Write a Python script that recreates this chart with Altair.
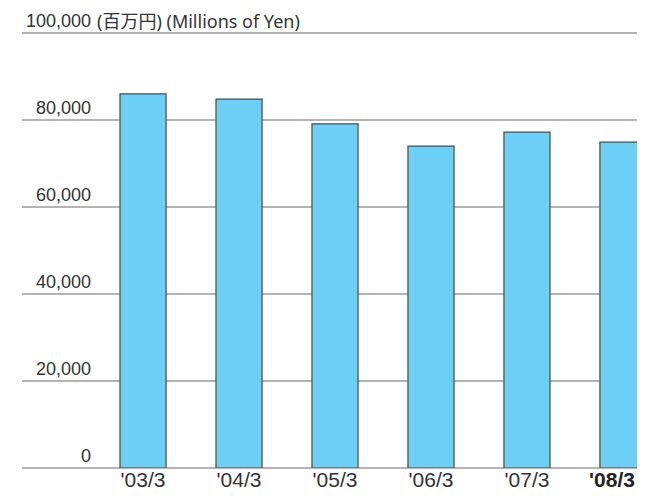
import altair as alt
import pandas as pd

periods = ["'03/3", "'04/3", "'05/3", "'06/3", "'07/3", "'08/3"]
values = [86000, 84800, 79100, 74000, 77200, 74900]
tick_values = [0, 20000, 40000, 60000, 80000, 100000]
tick_labels = ["0", "20,000", "40,000", "60,000", "80,000", "100,000"]
unit_title = "(百万円) (Millions of Yen)"

W, H = 615, 435
FONT = "Liberation Sans, Arial, Noto Sans CJK JP"
TFONT = "Noto Sans, Noto Sans CJK JP"

bars_df = pd.DataFrame({"period": periods, "value": values})
ticks_df = pd.DataFrame({"v": tick_values, "label": tick_labels})
title_df = pd.DataFrame({"v": [tick_values[-1]], "t": [unit_title]})

yscale = alt.Scale(domain=[0, 100000], range=[H, 0])
xscale = alt.Scale(domain=periods, range=[98, 624], paddingInner=0.52, paddingOuter=0)

grid = alt.Chart(ticks_df).mark_rule(color="#6b6b6b", strokeWidth=1.2).encode(
    y=alt.Y("v:Q", scale=yscale, axis=None),
    x=alt.value(0),
    x2=alt.value(W),
)

ylabels = alt.Chart(ticks_df).mark_text(
    align="right", baseline="alphabetic", dy=-6.5, fontSize=18, font=FONT, color="#333333"
).encode(
    y=alt.Y("v:Q", scale=yscale, axis=None),
    x=alt.value(69),
    text="label:N",
)

utitle = alt.Chart(title_df).mark_text(
    align="left", baseline="alphabetic", dy=-5.5, fontSize=18, font=TFONT, color="#333333"
).encode(
    y=alt.Y("v:Q", scale=yscale, axis=None),
    x=alt.value(75),
    text="t:N",
)

bars = alt.Chart(bars_df).mark_bar(
    color="#6ccff6", stroke="#4a4a4a", strokeWidth=1.2, clip=True
).encode(
    x=alt.X("period:N", scale=xscale, axis=None, sort=periods),
    y=alt.Y("value:Q", scale=yscale, axis=None),
)

xlab_normal = alt.Chart(bars_df).transform_filter(
    alt.datum.period != periods[-1]
).mark_text(
    align="center", baseline="alphabetic", fontSize=21, font=FONT, color="#333333"
).encode(
    x=alt.X("period:N", scale=xscale, axis=None, sort=periods),
    y=alt.value(H + 18.5),
    text="period:N",
)

xlab_bold = alt.Chart(bars_df).transform_filter(
    alt.datum.period == periods[-1]
).mark_text(
    align="right", dx=12, baseline="alphabetic", fontSize=21, fontWeight="bold", font=FONT, color="#222222"
).encode(
    x=alt.X("period:N", scale=xscale, axis=None, sort=periods),
    y=alt.value(H + 18.5),
    text="period:N",
)

chart = alt.layer(grid, bars, ylabels, utitle, xlab_normal, xlab_bold).properties(
    width=W,
    height=H,
    autosize=alt.AutoSizeParams(type="none"),
    padding={"left": 14, "top": 25, "right": 0, "bottom": 23},
).configure_view(stroke=None)

chart.save("out.html", embed_options={"renderer": "svg", "actions": False})
